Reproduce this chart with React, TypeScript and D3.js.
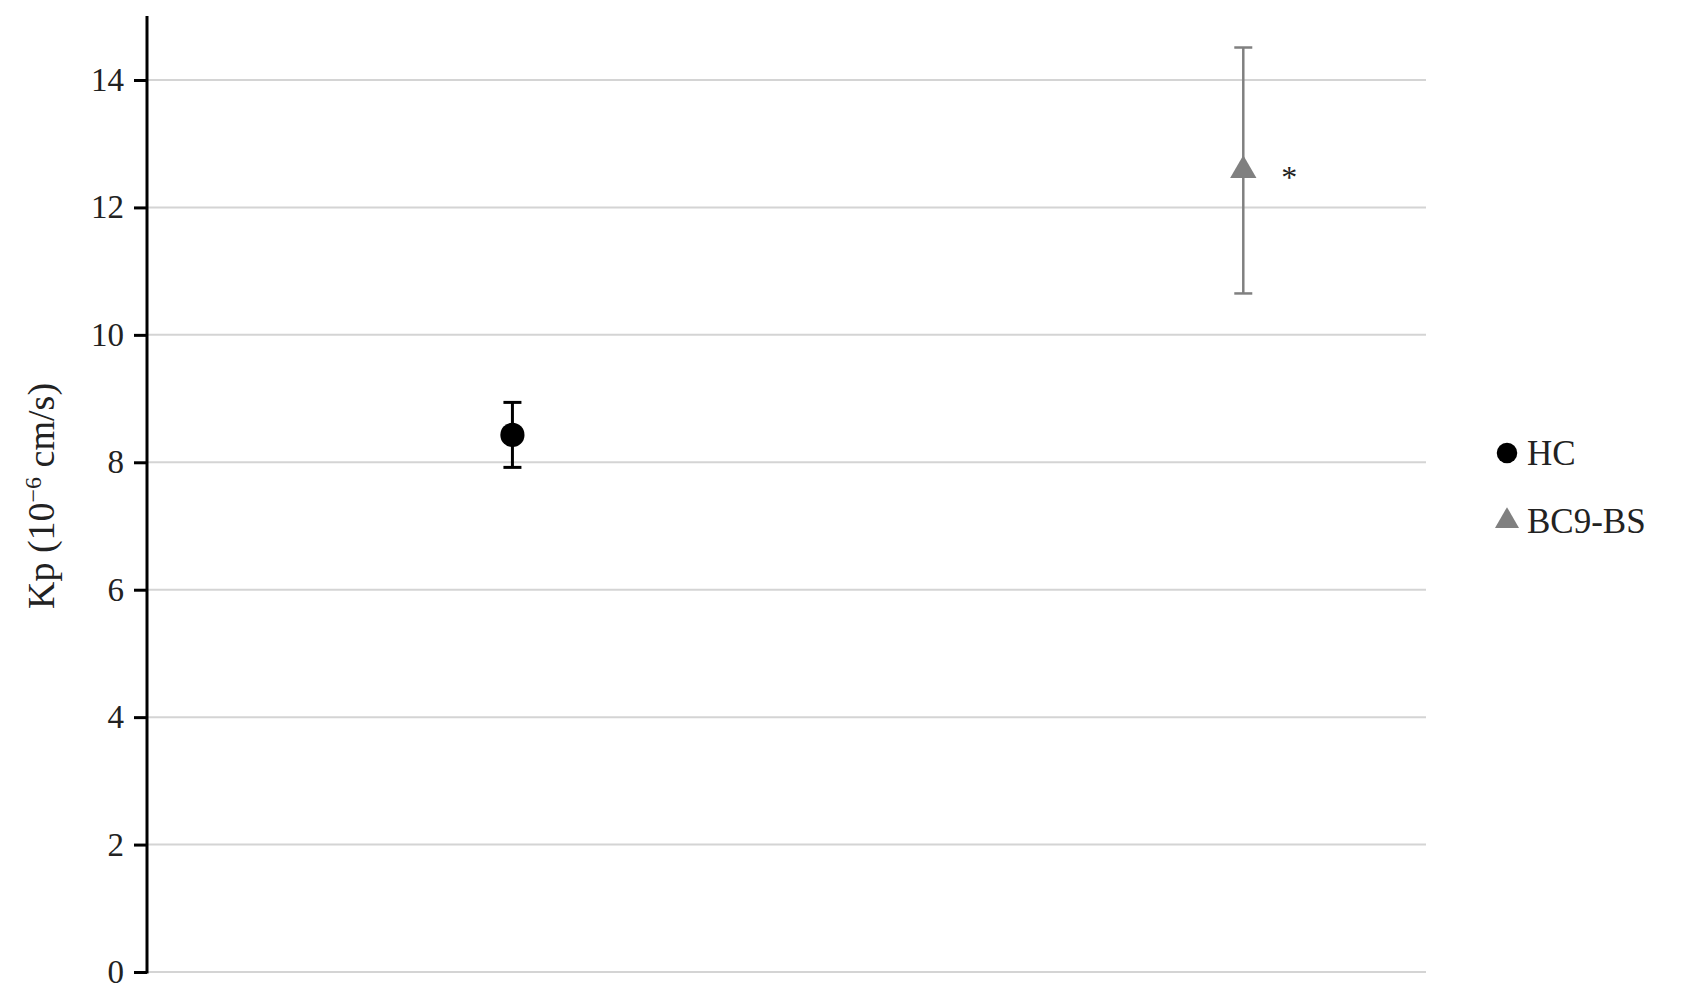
import React, { useEffect, useRef } from 'react';
import * as d3 from 'd3';

const groups = ['HC', 'BC9-BS'];
const xValues = [1, 3];
const means = [8.43, 12.58];
const errors = [0.51, 1.93];
const yTicks = [0, 2, 4, 6, 8, 10, 12, 14];
const colors = ['#000000', '#808080'];
const significance = ['', '*'];

const App = () => {
  const chartRef = useRef<SVGSVGElement>(null);

  useEffect(() => {
    const width = 1683;
    const height = 1000;
    const margin = { top: 16, left: 147, right: 257, bottom: 28 };
    const font = '"Liberation Serif", "DejaVu Serif", serif';

    const svg = d3.select(chartRef.current);
    svg.selectAll('*').remove();
    svg.attr('width', width).attr('height', height);

    const y = d3
      .scaleLinear()
      .domain([0, 14])
      .range([height - margin.bottom, 80]);

    const x = d3
      .scaleLinear()
      .domain([0, 3.5])
      .range([margin.left, width - margin.right]);

    // gridlines
    svg
      .append('g')
      .selectAll('line')
      .data(yTicks)
      .join('line')
      .attr('x1', margin.left)
      .attr('x2', width - margin.right)
      .attr('y1', d => y(d))
      .attr('y2', d => y(d))
      .attr('stroke', '#d4d4d4')
      .attr('stroke-width', 2);

    // y axis
    const axis = svg
      .append('g')
      .attr('transform', `translate(${margin.left},0)`)
      .call(d3.axisLeft(y).tickValues(yTicks).tickSize(13).tickPadding(10).tickSizeOuter(0));
    axis.select('.domain').remove();
    axis.selectAll('.tick line').attr('stroke', '#000').attr('stroke-width', 3);
    axis
      .selectAll('.tick text')
      .attr('font-family', font)
      .attr('font-size', 33)
      .attr('fill', '#222');
    svg
      .append('line')
      .attr('x1', margin.left)
      .attr('x2', margin.left)
      .attr('y1', margin.top)
      .attr('y2', y(0) + 1.5)
      .attr('stroke', '#000')
      .attr('stroke-width', 3);

    // y title
    const title = svg
      .append('text')
      .attr('transform', `translate(54,${496}) rotate(-90)`)
      .attr('text-anchor', 'middle')
      .attr('font-family', font)
      .attr('font-size', 38)
      .attr('fill', '#222');
    title.append('tspan').text('Kp (10');
    title.append('tspan').attr('dy', -13).attr('font-size', 24).text('−6');
    title.append('tspan').attr('dy', 13).text(' cm/s)');

    const symbols = [d3.symbolCircle, d3.symbolTriangle];
    const sizes = [460, 300];

    // error bars & markers
    groups.forEach((g, i) => {
      const cx = x(xValues[i]);
      const col = colors[i];
      const sw = i === 0 ? 3 : 2.5;
      const top = y(means[i] + errors[i]);
      const bot = y(means[i] - errors[i]);
      const grp = svg.append('g');
      grp
        .append('line')
        .attr('x1', cx).attr('x2', cx)
        .attr('y1', top).attr('y2', bot)
        .attr('stroke', col).attr('stroke-width', sw);
      [top, bot].forEach(yy => {
        grp
          .append('line')
          .attr('x1', cx - 9).attr('x2', cx + 9)
          .attr('y1', yy).attr('y2', yy)
          .attr('stroke', col).attr('stroke-width', sw);
      });
      grp
        .append('path')
        .attr('d', d3.symbol(symbols[i], sizes[i])())
        .attr('transform', `translate(${cx},${y(means[i])})`)
        .attr('fill', col);
      if (significance[i]) {
        grp
          .append('text')
          .attr('x', cx + 46)
          .attr('y', y(means[i]) + 18)
          .attr('text-anchor', 'middle')
          .attr('font-family', font)
          .attr('font-size', 32)
          .attr('fill', '#222')
          .text(significance[i]);
      }
    });

    // legend
    const legend = svg.append('g').attr('transform', 'translate(1507,453)');
    groups.forEach((g, i) => {
      const row = legend.append('g').attr('transform', `translate(0,${i * 68})`);
      row
        .append('path')
        .attr('d', d3.symbol(symbols[i], i === 0 ? 330 : 250)())
        .attr('fill', colors[i]);
      row
        .append('text')
        .attr('x', 20)
        .attr('y', 12)
        .attr('font-family', font)
        .attr('font-size', 35)
        .attr('fill', '#222')
        .text(g);
    });
  }, []);

  return (
    <div style={{ position: 'absolute', left: 0, top: 0, background: '#fff' }}>
      <svg ref={chartRef} style={{ display: 'block' }}></svg>
    </div>
  );
};

export default App;
